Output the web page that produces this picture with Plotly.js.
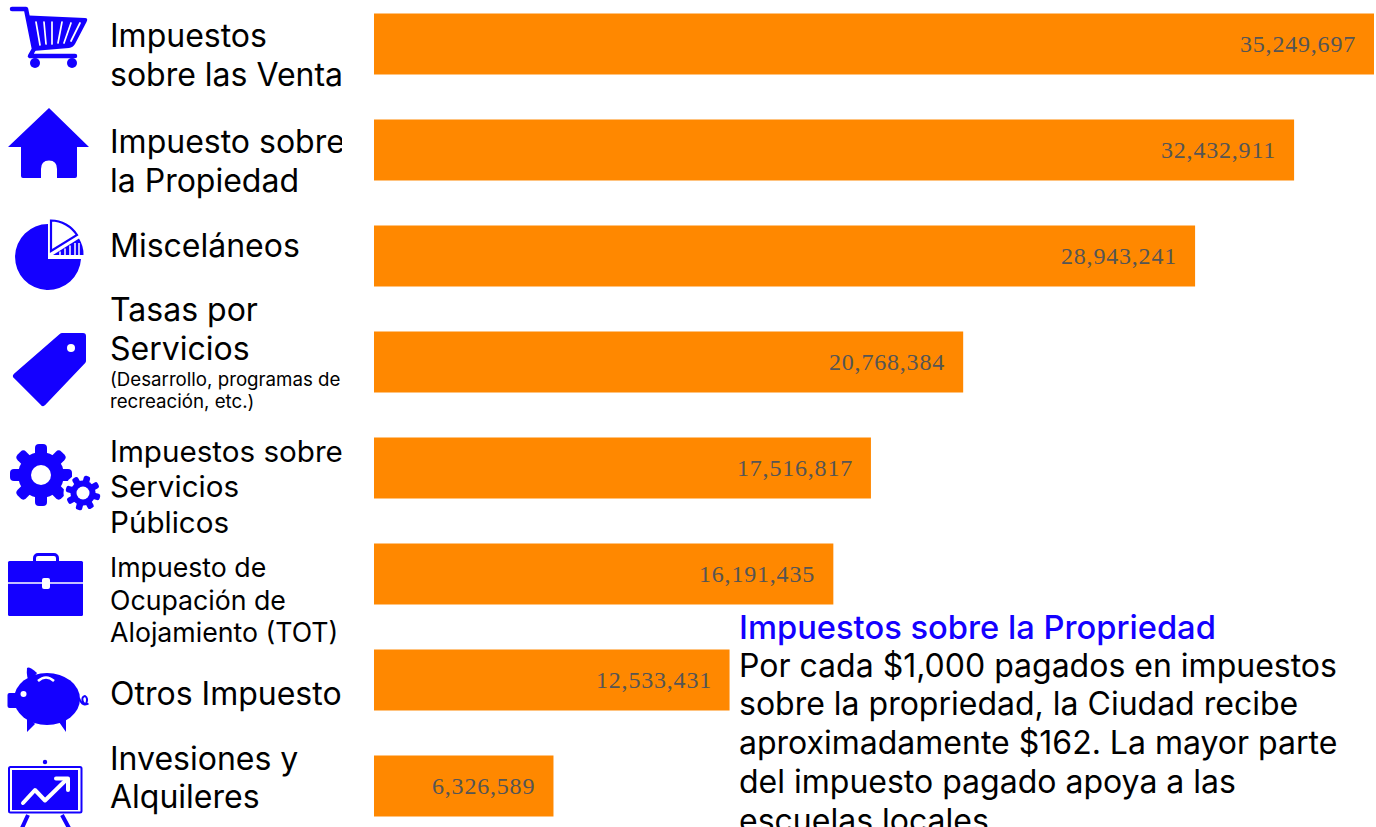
<!DOCTYPE html>
<html lang="es">
<head>
<meta charset="utf-8">
<script src="https://cdn.plot.ly/plotly-3.0.1.min.js"></script>
<style>html,body{margin:0;padding:0;background:#fff;overflow:hidden}#chart{width:1376px;height:827px}
text.annotation-text[style*="Liberation Serif"]{letter-spacing:.8px}</style>
</head>
<body>
<div id="chart"></div>
<script>
const categories = ["Impuestos sobre las Ventas","Impuesto sobre la Propiedad","Misceláneos","Tasas por Servicios","Impuestos sobre Servicios Públicos","Impuesto de Ocupación de Alojamiento (TOT)","Otros Impuestos","Invesiones y Alquileres"];
const values = [35249697,32432911,28943241,20768384,17516817,16191435,12533431,6326589];

// Label lines: [text, font size, vertical centre in page pixels]
const labelLines = [
 ["Impuestos",32,35.5],["sobre las Venta",32,74.5],
 ["Impuesto sobre",32,141.5],["la Propiedad",32,180.5],
 ["Misceláneos",32,245.5],
 ["Tasas por",32,309.5],["Servicios",32,348.5],
 ["(Desarrollo, programas de",18.7,379.5],["recreación, etc.)",18.7,401.5],
 ["Impuestos sobre",29.6,450.5],["Servicios",29.6,485.5],["Públicos",29.6,521.5],
 ["Impuesto de",26.7,567],["Ocupación de",26.7,600],["Alojamiento (TOT)",26.7,632],
 ["Otros Impuesto",32,693.5],
 ["Invesiones y",32,758.5],["Alquileres",32,796.5]
];
const noteTitle = "Impuestos sobre la Propriedad";
const noteLines = [
 ["Por cada $1,000 pagados en impuestos",665.5],
 ["sobre la propriedad, la Ciudad recibe",703.5],
 ["aproximadamente $162. La mayor parte",742.5],
 ["del impuesto pagado apoya a las",781.5],
 ["escuelas locales",820.5]
];

const W=1376,H=827,L=374,R=2,BLUE="#1400ff",ORANGE="#ff8800";
const plotW=W-L-R;
const pxX=x=>(x-L)/plotW;
const pxY=y=>1-y/H;
const fmt=v=>v.toLocaleString("en-US");
const xMax=values[0]*plotW/1000;

const annotations=[];
values.forEach((v,i)=>annotations.push({
  x:v,y:categories[i],xref:"x",yref:"y",text:fmt(v),showarrow:false,
  xanchor:"right",yanchor:"middle",xshift:-16,yshift:0,
  font:{family:"Liberation Serif, Times New Roman, serif",size:24,color:"#555555"}
}));
labelLines.forEach(([t,s,y])=>annotations.push({
  x:pxX(108),y:pxY(y),xref:"paper",yref:"paper",text:t,showarrow:false,
  xanchor:"left",yanchor:"middle",align:"left",width:232,
  font:{family:"Inter, sans-serif",size:s,color:"#000"}
}));
annotations.push({x:pxX(737),y:pxY(626.5),xref:"paper",yref:"paper",text:noteTitle,showarrow:false,
  xanchor:"left",yanchor:"middle",align:"left",
  font:{family:"Inter, sans-serif",size:32.7,weight:500,color:BLUE}});
noteLines.forEach(([t,y])=>annotations.push({
  x:pxX(737),y:pxY(y),xref:"paper",yref:"paper",text:t,showarrow:false,
  xanchor:"left",yanchor:"middle",align:"left",
  font:{family:"Inter, sans-serif",size:32,color:"#000"}
}));

function gear(cx,cy,outer,body,hole,tw,rot){
  let s="";
  for(let a=0;a<8;a++){
    s+=`<rect x="${cx-tw/2}" y="${cy-outer}" width="${tw}" height="${outer}" rx="${tw/3}" fill="${BLUE}" transform="rotate(${rot+a*45} ${cx} ${cy})"/>`;
  }
  return s+`<circle cx="${cx}" cy="${cy}" r="${body}" fill="${BLUE}"/><circle cx="${cx}" cy="${cy}" r="${hole}" fill="#fff"/>`;
}
const icons=`<svg xmlns="http://www.w3.org/2000/svg" width="${W}" height="${H}" viewBox="0 0 ${W} ${H}">
<!-- cart -->
<path d="M12,9 H26 L34,49 L30,56 H75" fill="none" stroke="${BLUE}" stroke-width="4.5" stroke-linecap="round" stroke-linejoin="round"/>
<path d="M29,15.5 L85,18 Q88.5,18 86.5,22 L75,44 Q73,47.5 69,48 L33,51 Z" fill="${BLUE}"/>
<g stroke="#fff" stroke-width="1.7" stroke-linecap="round" fill="none"><path d="M36,22 L40,45M44,22 L46,44M52,22 L52,44M62,22 L58,43M71,23 L64,43M80,23 L71,41"/></g>
<circle cx="35" cy="63" r="5" fill="${BLUE}"/><circle cx="72" cy="63" r="5" fill="${BLUE}"/>
<!-- house -->
<path d="M49,108 L89,147 H77 V176 Q77,178 75,178 H57 V169 Q57,160.5 49,160.5 Q41,160.5 41,169 V178 H23 Q21,178 21,176 V147 H8 Z" fill="${BLUE}"/>
<!-- pie -->
<path d="M48,257 V224 A33,33 0 1 0 81,259 H48 Z" fill="${BLUE}"/>
<path d="M51,220.5 A31,31 0 0 1 77,235 L51,251 Z" fill="#fff" stroke="${BLUE}" stroke-width="2.2" stroke-linejoin="miter"/>
<path d="M53,255 L79,238.5 A30,30 0 0 1 83.5,255 Z" fill="${BLUE}"/>
<path d="M60,251.5 V255M65,248.5 V255M70,245.5 V255M75,243 V255M79,243 V255" stroke="#fff" stroke-width="1.5" fill="none"/>
<!-- tag -->
<path d="M62,336 H83 V361 L43,403 L16,376 Z" fill="${BLUE}" stroke="${BLUE}" stroke-width="6" stroke-linejoin="round"/>
<circle cx="71" cy="348" r="4" fill="#fff"/>
<!-- gears -->
${gear(41,475,31,23,10,12,0)}
<circle cx="83" cy="493" r="19.5" fill="#fff"/>
${gear(83,493,17.5,12.5,6.5,6.5,15)}
<!-- briefcase -->
<rect x="34.5" y="554.5" width="23" height="12" rx="3.5" fill="none" stroke="${BLUE}" stroke-width="3"/>
<rect x="8" y="561" width="75" height="55" rx="1.5" fill="${BLUE}"/>
<path d="M8,583 H83" stroke="#fff" stroke-width="1.5"/>
<rect x="42" y="578" width="8" height="11" rx="2" fill="#fff"/>
<!-- piggy -->
<path d="M27,668 Q29,666 37,673 L30,682 Q26,678 27,668 Z" fill="${BLUE}"/>
<path d="M27,715 V732 L35,724 Z M59,722 L66,732 V715 Z" fill="${BLUE}"/>
<ellipse cx="47" cy="699" rx="33" ry="26" fill="${BLUE}"/>
<rect x="7.5" y="693" width="14" height="15" rx="2" fill="${BLUE}"/>
<circle cx="23.5" cy="694" r="3" fill="#fff"/>
<path d="M38,681 Q46,674 54,681" fill="none" stroke="#fff" stroke-width="2.5"/>
<path d="M79,698 Q82,706 86,704 Q88.5,698 85,696 Q81,697 83,702 Q85,705.5 88.5,703.5" fill="none" stroke="${BLUE}" stroke-width="2"/>
<!-- easel -->
<circle cx="45" cy="762" r="2.2" fill="${BLUE}"/>
<rect x="9" y="767" width="72.5" height="45.5" rx="1.5" fill="#fff" stroke="${BLUE}" stroke-width="2"/>
<rect x="12" y="770" width="66" height="40" fill="${BLUE}"/>
<path d="M23,803 L35,790 L45,800.5 L66,780" fill="none" stroke="#fff" stroke-width="4" stroke-linecap="round" stroke-linejoin="round"/>
<path d="M56,778.5 H68 V790" fill="none" stroke="#fff" stroke-width="4" stroke-linecap="round" stroke-linejoin="round"/>
<path d="M28,815 L22,828 M62,815 L69,828" stroke="${BLUE}" stroke-width="4" fill="none"/>
</svg>`;

const layout={
  width:W,height:H,margin:{l:L,r:R,t:0,b:0,pad:0},
  paper_bgcolor:"#fff",plot_bgcolor:"#fff",showlegend:false,bargap:1-61/106,
  xaxis:{range:[0,xMax],visible:false,fixedrange:true},
  yaxis:{type:"category",categoryorder:"array",categoryarray:categories,
         range:[(H-44)/106,-44/106],visible:false,fixedrange:true},
  annotations,
  images:[{source:"data:image/svg+xml;charset=utf-8,"+encodeURIComponent(icons),
    xref:"paper",yref:"paper",x:pxX(0),y:1,sizex:W/plotW,sizey:1,xanchor:"left",yanchor:"top",sizing:"stretch",layer:"above"}]
};
Plotly.newPlot("chart",[{type:"bar",orientation:"h",x:values,y:categories,marker:{color:ORANGE},hoverinfo:"skip"}],layout,{staticPlot:true,displayModeBar:false});
</script>
</body>
</html>
